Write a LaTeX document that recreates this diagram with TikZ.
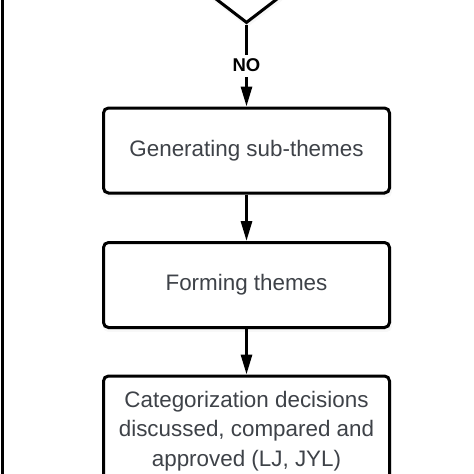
\documentclass[tikz,border=0pt]{standalone}
\usepackage{fontspec}
\setmainfont{Liberation Sans}
\usetikzlibrary{arrows.meta,shapes.geometric,shadows}
\definecolor{txtgray}{RGB}{62,66,72}
\tikzset{
  softshadow/.style={
    drop shadow={opacity=0.06, shadow xshift=1pt, shadow yshift=-4pt, shadow scale=1.01},
    drop shadow={opacity=0.08, shadow xshift=0.5pt, shadow yshift=-2pt}},
  stepbox/.style={draw=black, line width=3pt, rounded corners=5pt, fill=white, softshadow,
    minimum width=286pt, inner sep=0pt, text=txtgray, font=\fontsize{22.4}{29.5}\selectfont, align=center},
  flow/.style={draw=black, line width=3pt, -{Triangle[length=20pt,width=11pt]}},
  decide/.style={diamond, draw=black, line width=3pt, fill=white, softshadow, minimum width=156pt, minimum height=120pt, inner sep=0pt},
  lbl/.style={fill=white, inner sep=0pt, minimum height=22pt, font=\fontsize{18.5}{18.5}\selectfont\bfseries, text=black}
}
\begin{document}
\begin{tikzpicture}[x=1pt,y=-1pt]
\useasboundingbox (0,0) rectangle (474,474);
\clip (0,0) rectangle (474,474);
\coordinate (ltop) at (2.5,-5);
\coordinate (lbot) at (2.5,480);
\draw[line width=3pt] (ltop) -- (lbot);
\node[decide] (dec) at (246.5,-37) {};
\node[stepbox, minimum height=85pt] (b1) at (246.5,150.5) {Generating sub-themes};
\node[stepbox, minimum height=85pt] (b2) at (246.5,285) {Forming themes};
\node[stepbox, minimum height=110pt] (b3) at (246.5,431) {Categorization decisions\\discussed, compared and\\approved (LJ, JYL)};
\draw[flow] (dec.south) -- node[lbl] {NO} (b1.north);
\draw[flow] (b1.south) -- (b2.north);
\draw[flow] (b2.south) -- (b3.north);
\end{tikzpicture}
\end{document}
